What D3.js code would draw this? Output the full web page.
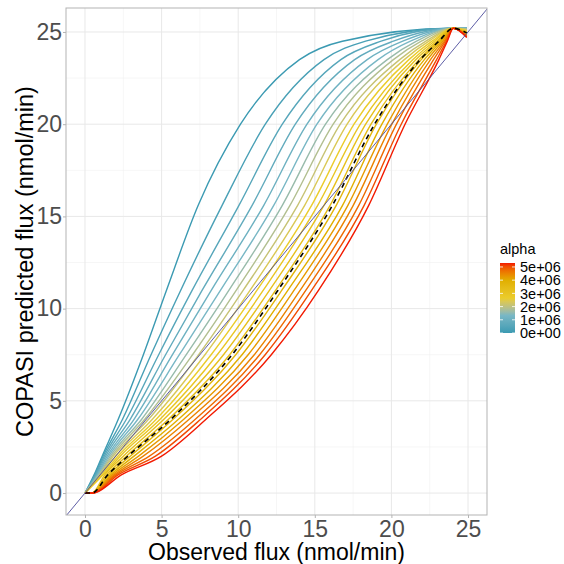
<!DOCTYPE html>
<html>
<head>
<meta charset="utf-8">
<script src="https://cdn.jsdelivr.net/npm/d3@7"></script>
<style>
  body { margin: 0; background: #fff; }
  text { font-family: "Liberation Sans", Arial, sans-serif; }
</style>
</head>
<body>
<div id="chart"></div>
<script>
// alpha of each simulated curve (colour)
const alphas = [0, 265000, 530000, 795000, 1060000, 1325000, 1590000, 1855000, 2120000,
  2385000, 2650000, 2915000, 3180000, 3445000, 3710000, 3975000, 4240000, 4505000,
  4770000, 5035000, 5300000];

// observed flux where each curve reaches a given predicted flux
const xAtY1    = [0.6, 0.65, 0.7, 0.75, 0.8, 0.85, 0.9, 0.95, 1.0, 1.05, 1.12, 1.2, 1.3, 1.42, 1.55, 1.68, 1.8, 1.92, 2.04, 2.18, 2.4];
const xAtY2    = [1.12, 1.18, 1.26, 1.35, 1.45, 1.55, 1.65, 1.75, 1.85, 2.0, 2.15, 2.3, 2.5, 2.7, 2.95, 3.2, 3.5, 3.8, 4.2, 4.6, 5.0];
const xAtY4    = [2.17, 2.45, 2.7, 2.95, 3.2, 3.45, 3.7, 3.9, 4.15, 4.4, 4.65, 4.9, 5.15, 5.45, 5.75, 6.1, 6.45, 6.8, 7.2, 7.55, 7.9];
const xAtY7_5  = [3.81, 4.31, 4.81, 5.26, 5.71, 6.16, 6.61, 7.02, 7.42, 7.83, 8.23, 8.63, 9.04, 9.44, 9.84, 10.25, 10.65, 11.05, 11.4, 11.76, 12.16];
const xAtY11   = [5.32, 6.25, 7.0, 7.65, 8.25, 8.85, 9.4, 9.88, 10.33, 10.78, 11.23, 11.64, 12.05, 12.45, 12.85, 13.25, 13.65, 14.05, 14.42, 14.8, 15.25];
const xAtY15_6 = [7.39, 8.95, 10.05, 10.91, 11.67, 12.32, 12.88, 13.38, 13.88, 14.34, 14.79, 15.19, 15.6, 16.0, 16.4, 16.81, 17.16, 17.51, 17.87, 18.22, 18.52];
const xAtY20   = [10.15, 11.77, 12.88, 13.73, 14.49, 15.14, 15.7, 16.2, 16.66, 17.11, 17.56, 17.97, 18.32, 18.67, 19.02, 19.38, 19.73, 20.03, 20.33, 20.64, 20.89];
const xAtY23_5 = [14.0, 15.6, 16.7, 17.6, 18.42, 19.13, 19.73, 20.13, 20.54, 20.84, 21.14, 21.39, 21.59, 21.8, 21.95, 22.15, 22.35, 22.55, 22.75, 22.95, 23.1];
const xAtY24_5 = [16.8, 18.32, 19.33, 20.13, 20.74, 21.24, 21.64, 21.95, 22.25, 22.45, 22.65, 22.8, 22.95, 23.05, 23.15, 23.25, 23.35, 23.45, 23.52, 23.6, 23.65];
// predicted flux at the last observed point
const yEnd = [25.2, 25.2, 25.2, 25.2, 25.2, 25.2, 25.18, 25.15, 25.12, 25.1, 25.05, 25.0, 24.97, 24.93, 24.9, 24.87, 24.83, 24.8, 24.77, 24.73, 24.7];

const levels = [1, 2, 4, 7.5, 11, 15.6, 20, 23.5, 24.5];
const crossings = [xAtY1, xAtY2, xAtY4, xAtY7_5, xAtY11, xAtY15_6, xAtY20, xAtY23_5, xAtY24_5];

// shared observed points
const firstPoint = [0, 0];
const flatPoint = [0.45, 0];
const peakPoint = [24.04, 25.2];
const lastX = 24.92;

// reference (dashed) curve
const refX = [0, 0.45, 1.5, 2.8, 5.6, 9.6, 12.6, 16.15, 18.9, 21.88, 23.1, 24.04, 24.92];
const refY = [0, 0, 1, 2, 4, 7.5, 11, 15.6, 20, 23.5, 24.5, 25.2, 24.95];

const xTicks = [0, 5, 10, 15, 20, 25];
const yTicks = [0, 5, 10, 15, 20, 25];
const minorTicks = [2.5, 7.5, 12.5, 17.5, 22.5];
const legendTicks = [0, 1e6, 2e6, 3e6, 4e6, 5e6];
const palette = ["#3B9AB2", "#78B7C5", "#EBCC2A", "#E1AF00", "#F21A00"];

const chart = {
  el: "#chart",
  outerWidth: 564,
  outerHeight: 564,
  margin: { left: 66, right: 77, top: 8, bottom: 49 },
  parameters(){
    this.width = this.outerWidth - this.margin.left - this.margin.right;
    this.height = this.outerHeight - this.margin.top - this.margin.bottom;
  },
  createScales(){
    this.xScale = d3.scaleLinear().domain([-1.24, 26.24]).range([0, this.width]);
    this.yScale = d3.scaleLinear().domain([-1.19, 26.3]).range([this.height, 0]);
    const maxA = d3.max(alphas);
    this.color = d3.scaleLinear()
      .domain(palette.map((c, i) => maxA * i / (palette.length - 1)))
      .range(palette)
      .interpolate(d3.interpolateLab);
  },
  drawPlot(){
    this.svg = d3.select(this.el).append("svg")
      .attr("width", this.outerWidth)
      .attr("height", this.outerHeight);
    this.plot = this.svg.append("g")
      .attr("transform", `translate(${this.margin.left}, ${this.margin.top})`);
    this.plot.append("defs").append("clipPath").attr("id", "clip")
      .append("rect").attr("width", this.width).attr("height", this.height);
  },
  drawAxes(){
    const that = this;
    const grid = this.plot.append("g").attr("class", "grid");
    grid.selectAll(".minx").data(minorTicks).enter().append("line")
      .attr("x1", d => that.xScale(d)).attr("x2", d => that.xScale(d))
      .attr("y1", 0).attr("y2", this.height)
      .attr("stroke", "#F0F0F0").attr("stroke-width", 0.6);
    grid.selectAll(".miny").data(minorTicks).enter().append("line")
      .attr("y1", d => that.yScale(d)).attr("y2", d => that.yScale(d))
      .attr("x1", 0).attr("x2", this.width)
      .attr("stroke", "#F0F0F0").attr("stroke-width", 0.6);
    grid.selectAll(".majx").data(xTicks).enter().append("line")
      .attr("x1", d => that.xScale(d)).attr("x2", d => that.xScale(d))
      .attr("y1", 0).attr("y2", this.height)
      .attr("stroke", "#E8E8E8").attr("stroke-width", 1);
    grid.selectAll(".majy").data(yTicks).enter().append("line")
      .attr("y1", d => that.yScale(d)).attr("y2", d => that.yScale(d))
      .attr("x1", 0).attr("x2", this.width)
      .attr("stroke", "#E8E8E8").attr("stroke-width", 1);

    const xAxis = d3.axisBottom(this.xScale).tickValues(xTicks).tickSize(3).tickPadding(2);
    const yAxis = d3.axisLeft(this.yScale).tickValues(yTicks).tickSize(3).tickPadding(1);
    const gx = this.plot.append("g")
      .attr("transform", `translate(0, ${this.height})`)
      .call(xAxis);
    const gy = this.plot.append("g").call(yAxis);
    [gx, gy].forEach(g => {
      g.select(".domain").remove();
      g.selectAll(".tick line").attr("stroke", "#B3B3B3");
      g.selectAll(".tick text").attr("fill", "#4D4D4D").style("font-size", "23px")
        .style("font-family", "Liberation Sans, Arial, sans-serif");
    });
    gx.selectAll(".tick text").attr("dy", "0.72em");

    this.svg.append("text")
      .attr("x", this.margin.left + this.width / 2)
      .attr("y", 560)
      .attr("text-anchor", "middle")
      .style("font-size", "23px")
      .text("Observed flux (nmol/min)");
    this.svg.append("text")
      .attr("transform", `translate(33, ${this.margin.top + this.height / 2}) rotate(-90)`)
      .attr("text-anchor", "middle")
      .style("font-size", "23.5px")
      .text("COPASI predicted flux (nmol/min)");
  },
  drawData(){
    const that = this;
    const line = d3.line()
      .x(d => that.xScale(d[0]))
      .y(d => that.yScale(d[1]))
      .curve(d3.curveMonotoneX);

    const series = alphas.map(function(a, i){
      const pts = [firstPoint];
      if (i >= 12) pts.push(flatPoint);
      levels.forEach(function(lv, k){ pts.push([crossings[k][i], lv]); });
      pts.push(peakPoint);
      pts.push([lastX, yEnd[i]]);
      return { alpha: a, pts: pts };
    });

    const body = this.plot.append("g").attr("clip-path", "url(#clip)");
    body.selectAll(".curve").data(series).enter().append("path")
      .attr("class", "curve")
      .attr("d", d => line(d.pts))
      .attr("fill", "none")
      .attr("stroke", d => that.color(d.alpha))
      .attr("stroke-width", 1.4);

    body.append("path")
      .attr("d", line(refX.map((x, i) => [x, refY[i]])))
      .attr("fill", "none")
      .attr("stroke", "#000")
      .attr("stroke-width", 1.6)
      .attr("stroke-dasharray", "5,4");

    body.append("line")
      .attr("x1", this.xScale(-2)).attr("y1", this.yScale(-2))
      .attr("x2", this.xScale(28)).attr("y2", this.yScale(28))
      .attr("stroke", "#4B4B9B").attr("stroke-width", 0.9);

    this.plot.append("rect")
      .attr("width", this.width).attr("height", this.height)
      .attr("fill", "none").attr("stroke", "#B3B3B3").attr("stroke-width", 1);
  },
  drawLegend(){
    const that = this;
    const lx = 500, top = 263, h = 70, w = 15;
    const ly = d3.scaleLinear().domain([0, d3.max(alphas)]).range([top + h, top]);
    this.svg.append("text").attr("x", lx).attr("y", 254)
      .style("font-size", "14.5px").text("alpha");
    const grad = this.svg.append("defs").append("linearGradient")
      .attr("id", "lg").attr("x1", 0).attr("y1", 1).attr("x2", 0).attr("y2", 0);
    d3.range(0, 1.0001, 0.05).forEach(function(t){
      grad.append("stop").attr("offset", t)
        .attr("stop-color", that.color(t * d3.max(alphas)));
    });
    this.svg.append("rect").attr("x", lx).attr("y", top)
      .attr("width", w).attr("height", h).attr("fill", "url(#lg)");
    const lg = this.svg.append("g");
    lg.selectAll(".tl").data(legendTicks).enter().append("line")
      .attr("x1", lx).attr("x2", lx + 3)
      .attr("y1", d => ly(d)).attr("y2", d => ly(d))
      .attr("stroke", "#fff").attr("stroke-width", 0.8);
    lg.selectAll(".tr").data(legendTicks).enter().append("line")
      .attr("x1", lx + w - 3).attr("x2", lx + w)
      .attr("y1", d => ly(d)).attr("y2", d => ly(d))
      .attr("stroke", "#fff").attr("stroke-width", 0.8);
    lg.selectAll("text").data(legendTicks).enter().append("text")
      .attr("x", lx + w + 5)
      .attr("y", d => ly(d))
      .attr("dy", "0.36em")
      .style("font-size", "14.5px")
      .attr("fill", "#000")
      .text(d => d3.format(".0e")(d).replace("e+", "e+0").replace("e-", "e-0"));
  },
  draw(){
    this.parameters();
    this.createScales();
    this.drawPlot();
    this.drawAxes();
    this.drawData();
    this.drawLegend();
  }
};

chart.draw();
</script>
</body>
</html>
